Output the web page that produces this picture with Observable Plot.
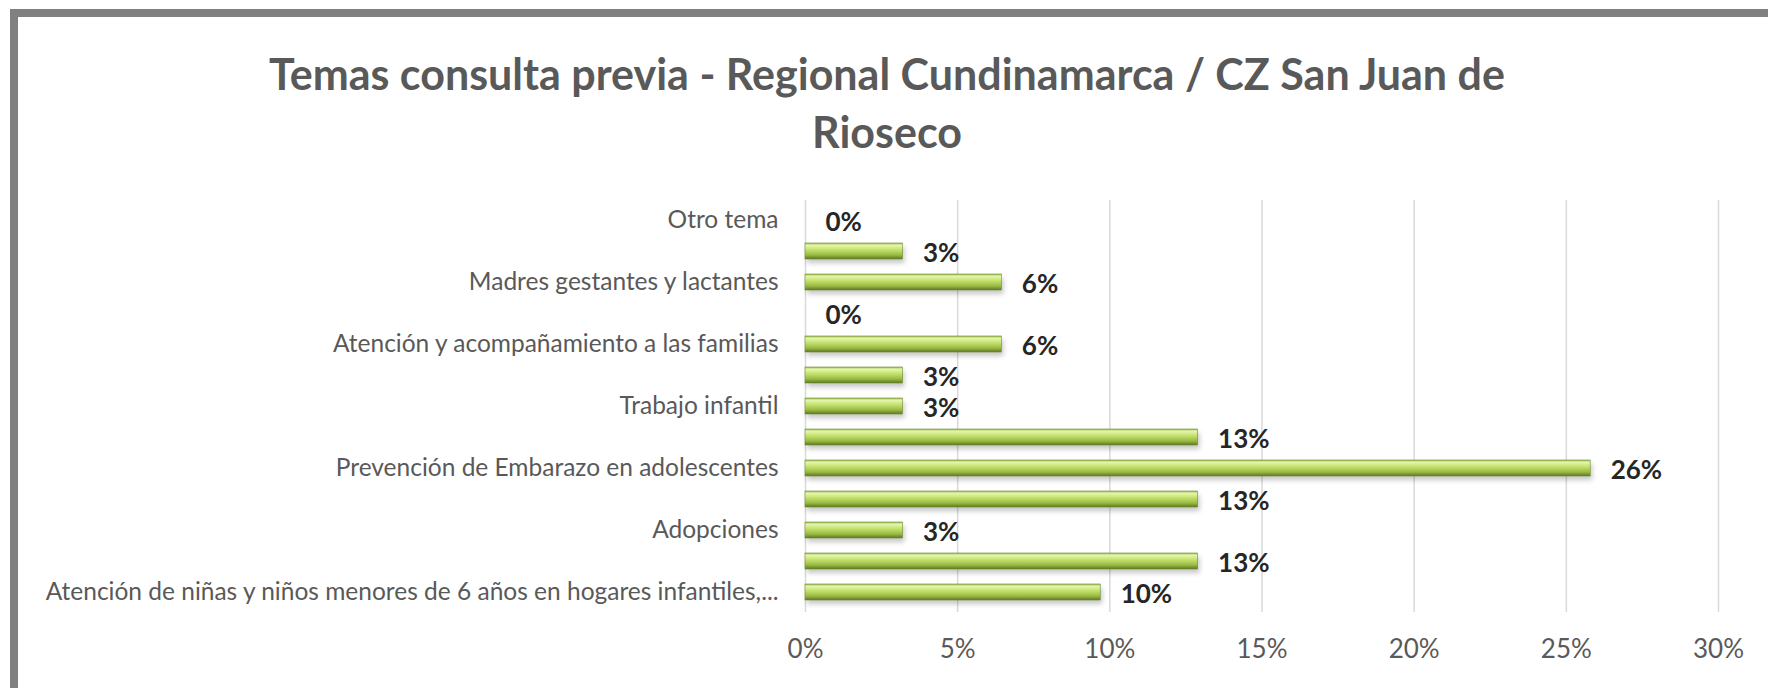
<!DOCTYPE html>
<html>
<head>
<meta charset="utf-8">
<script src="https://cdn.jsdelivr.net/npm/d3@7"></script>
<script src="https://cdn.jsdelivr.net/npm/@observablehq/plot@0.6"></script>
<style>
html, body { margin: 0; padding: 0; background: #fff; width: 1768px; height: 688px; overflow: hidden; font-family: Lato, sans-serif; }
#frame { position: absolute; left: 10px; top: 9px; width: 1758px; height: 679px; border-left: 8px solid #808080; border-top: 8px solid #808080; box-sizing: border-box; }
#title { position: absolute; left: 0; width: 1774px; top: 45px; text-align: center; font-weight: bold; color: #595959; font-size: 43px; line-height: 58px; font-family: Lato, sans-serif; }
#chart { position: absolute; left: 0; top: 170px; }
</style>
</head>
<body>
<div id="frame"></div>
<div id="title">Temas consulta previa - Regional Cundinamarca / CZ San Juan de<br>Rioseco</div>
<div id="chart"></div>
<script>
// Categories top to bottom ("" = label not shown in the original chart)
const categories = [
  "Otro tema",
  "",
  "Madres gestantes y lactantes",
  "",
  "Atención y acompañamiento a las familias",
  "",
  "Trabajo infantil",
  "",
  "Prevención de Embarazo en adolescentes",
  "",
  "Adopciones",
  "",
  "Atención de niñas y niños menores de 6 años en hogares infantiles,..."
];
const values = [0, 0.032, 0.0645, 0, 0.0645, 0.032, 0.032, 0.129, 0.258, 0.129, 0.032, 0.129, 0.097];
const xTicks = [0, 0.05, 0.10, 0.15, 0.20, 0.25, 0.30];

const rows = categories.map((label, i) => ({i, label, value: values[i]}));
const pct = d3.format(".0%");

const chart = Plot.plot({
  width: 1768,
  height: 518,
  marginLeft: 805,
  marginRight: 50,
  marginTop: 30,
  marginBottom: 76,
  style: {fontFamily: "Lato, sans-serif", background: "transparent", overflow: "visible"},
  x: {domain: [0, 0.3], ticks: xTicks, label: null},
  y: {type: "band", domain: rows.map(d => d.i), paddingInner: 0.48, paddingOuter: 0.25, label: null},
  marks: [
    Plot.gridX(xTicks, {stroke: "#d9d9d9", strokeOpacity: 1, strokeWidth: 1.5}),
    Plot.axisX({ticks: xTicks, tickFormat: pct, tickSize: 0, tickPadding: 27, fontSize: 26, color: "#595959", label: null}),
    Plot.axisY({tickSize: 0, tickPadding: 27, tickFormat: i => categories[i], fontSize: 24.5, color: "#595959", label: null}),
    Plot.barX(rows, {x: "value", y: "i", fill: "#000", fillOpacity: 0.22, dy: 4, dx: 2}),
    Plot.barX(rows, {x: "value", y: "i", fill: "url(#barGrad)", stroke: "#6f8c2c", strokeWidth: 0.6}),
    Plot.text(rows, {x: "value", y: "i", text: d => pct(d.value), textAnchor: "start", dx: 20, dy: 2, fontSize: 26, fontWeight: "bold", fill: "#262626"})
  ]
});

const svg = d3.select(chart);
const defs = svg.insert("defs", ":first-child");
const g = defs.append("linearGradient").attr("id", "barGrad").attr("x1", 0).attr("y1", 0).attr("x2", 0).attr("y2", 1);
[["0%", "#9cba4c"], ["14%", "#e4f6ad"], ["40%", "#c6e370"], ["75%", "#9aba42"], ["100%", "#5c7722"]].forEach(([o, c]) =>
  g.append("stop").attr("offset", o).attr("stop-color", c));
const f = defs.append("filter").attr("id", "blur").attr("x", "-10%").attr("y", "-50%").attr("width", "120%").attr("height", "200%");
f.append("feGaussianBlur").attr("stdDeviation", 2.5);
const barGroups = svg.selectAll('g[aria-label="bar"]').nodes();
if (barGroups.length) d3.select(barGroups[0]).attr("filter", "url(#blur)");

document.getElementById("chart").appendChild(chart);
</script>
</body>
</html>
